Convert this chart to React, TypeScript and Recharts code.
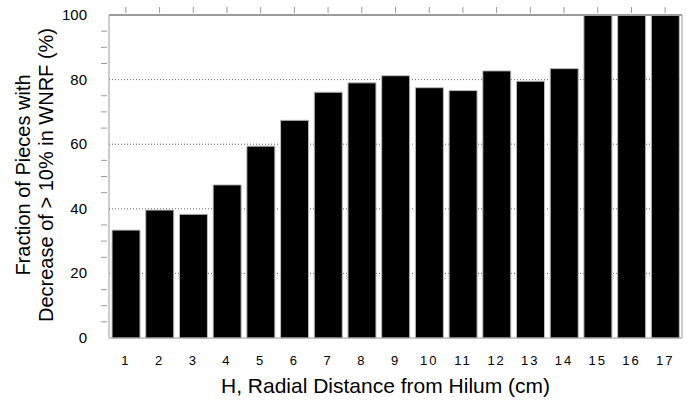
import { BarChart, Bar, XAxis, YAxis, CartesianGrid } from "recharts";

const distances = ["1", "2", "3", "4", "5", "6", "7", "8", "9", "10", "11", "12", "13", "14", "15", "16", "17"];
const fractions = [33.4, 39.6, 38.3, 47.4, 59.4, 67.4, 76.1, 79.0, 81.2, 77.5, 76.6, 82.7, 79.5, 83.4, 100, 100, 100];
const yTicks = [0, 5, 10, 15, 20, 25, 30, 35, 40, 45, 50, 55, 60, 65, 70, 75, 80, 85, 90, 95, 100];
const yLabels = [0, 20, 40, 60, 80, 100];

const data = distances.map((h, i) => ({ h, frac: fractions[i] }));

const FONT = "'Liberation Sans', Arial, Helvetica, sans-serif";
const FRAME = "#9a9a9a";

function LeftTick(props: any) {
  const { x, y, payload } = props;
  const major = yLabels.includes(payload.value);
  return (
    <g>
      <line x1={x} x2={x + (major ? 0 : 6)} y1={y} y2={y} stroke={FRAME} />
      {major && (
        <text x={x - 14} y={y + 5} textAnchor="end" fontSize={15} fontFamily={FONT} fill="#000">
          {payload.value}
        </text>
      )}
    </g>
  );
}

function RightTick(props: any) {
  const { x, y } = props;
  return <line x1={x} x2={x - 6} y1={y} y2={y} stroke={FRAME} />;
}

function TopTick(props: any) {
  const { x, y } = props;
  return <line x1={x} x2={x} y1={y} y2={y + 6} stroke={FRAME} />;
}

function BottomTick(props: any) {
  const { x, y, payload } = props;
  return (
    <text x={x} y={y + 19} textAnchor="middle" fontSize={13} fontFamily={FONT} fill="#000" letterSpacing={2}>
      {payload.value}
    </text>
  );
}

function YTitle() {
  return (
    <text
      transform="translate(41, 175) rotate(-90)"
      textAnchor="middle"
      fontSize={20}
      fontFamily={FONT}
      fill="#000"
    >
      <tspan x={0} dy={-11}>Fraction of Pieces with</tspan>
      <tspan x={0} dy={23}>Decrease of &gt; 10% in WNRF (%)</tspan>
    </text>
  );
}

export default function App() {
  return (
    <div style={{ position: "absolute", left: 0, top: 0, background: "#fff" }}>
      <BarChart
        width={687}
        height={403}
        data={data}
        margin={{ top: 14, right: 4, left: 69, bottom: 35 }}
        barCategoryGap="9%"
      >
        <CartesianGrid
          horizontal
          vertical={false}
          stroke="#666"
          strokeDasharray="1 2"
          yAxisId="left"
          horizontalValues={[20, 40, 60, 80]}
        />
        <XAxis
          dataKey="h"
          xAxisId="bottom"
          tick={<BottomTick />}
          tickLine={false}
          axisLine={{ stroke: FRAME }}
          height={30}
          interval={0}
        />
        <XAxis
          dataKey="h"
          xAxisId="top"
          orientation="top"
          tick={<TopTick />}
          tickLine={false}
          axisLine={{ stroke: FRAME, strokeWidth: 2 }}
          height={1}
          interval={0}
        />
        <YAxis
          yAxisId="left"
          domain={[0, 100]}
          ticks={yTicks}
          interval={0}
          tick={<LeftTick />}
          tickLine={false}
          axisLine={{ stroke: FRAME }}
          width={40}
          label={<YTitle />}
        />
        <YAxis
          yAxisId="right"
          orientation="right"
          domain={[0, 100]}
          ticks={yTicks}
          interval={0}
          tick={<RightTick />}
          tickLine={false}
          axisLine={{ stroke: FRAME }}
          width={1}
        />
        <Bar
          dataKey="frac"
          xAxisId="bottom"
          yAxisId="left"
          fill="#000"
          stroke="#bbb"
          strokeWidth={1}
          isAnimationActive={false}
        />
      </BarChart>
      <div
        style={{
          position: "absolute",
          left: 221,
          top: 374,
          whiteSpace: "nowrap",
          fontFamily: FONT,
          fontSize: 21,
          lineHeight: "24px",
          color: "#000",
        }}
      >
        H, Radial Distance from Hilum (cm)
      </div>
    </div>
  );
}
